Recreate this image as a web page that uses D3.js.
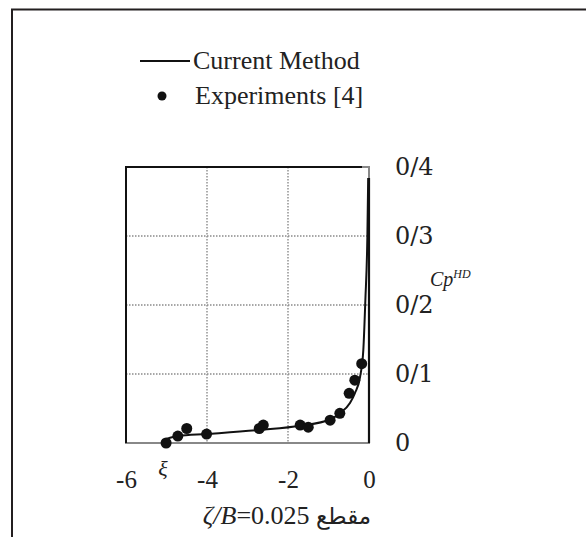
<!DOCTYPE html>
<html>
<head>
<meta charset="utf-8">
<script src="https://cdn.jsdelivr.net/npm/d3@7"></script>
<style>
  body { margin: 0; background: #fff; }
  svg { display: block; }
</style>
</head>
<body>
<svg width="586" height="537"></svg>
<script>
// computed curve (current method)
var curveX = [-5.0, -4.72, -4.01, -2.69, -1.70, -0.96, -0.72, -0.47, -0.35, -0.22, -0.14, -0.09, -0.04, -0.02];
var curveY = [0.006, 0.010, 0.013, 0.019, 0.025, 0.034, 0.043, 0.058, 0.072, 0.096, 0.135, 0.207, 0.30, 0.384];

// experiments [4]
var expX = [-5.01, -4.72, -4.50, -4.01, -2.71, -2.61, -1.70, -1.50, -0.96, -0.72, -0.49, -0.35, -0.18];
var expY = [0.000, 0.010, 0.021, 0.013, 0.021, 0.026, 0.026, 0.023, 0.033, 0.043, 0.072, 0.091, 0.115];

var xTicks = [-6, -4, -2, 0];
var yTicks = [0, 0.1, 0.2, 0.3, 0.4];
var yTickLabels = ["0", "0/1", "0/2", "0/3", "0/4"];

var svg = d3.select("svg");

var x = d3.scaleLinear().domain([-6, 0]).range([126, 369]);
var y = d3.scaleLinear().domain([0, 0.4]).range([443, 167]);

// outer frame (left + top only)
svg.append("path")
    .attr("d", "M12,537 V9.5 H586")
    .attr("fill", "none")
    .attr("stroke", "#231f20")
    .attr("stroke-width", 2);

// grid
var grid = svg.append("g");
grid.selectAll(".gx")
  .data([-4, -2])
  .enter().append("line")
    .attr("x1", function(d) { return x(d); })
    .attr("x2", function(d) { return x(d); })
    .attr("y1", y(0.4))
    .attr("y2", y(0))
    .attr("stroke", "#8a8a8a")
    .attr("stroke-width", 1.4)
    .attr("stroke-dasharray", "1.5,1.5");
grid.selectAll(".gy")
  .data([0.1, 0.2, 0.3])
  .enter().append("line")
    .attr("x1", x(-6))
    .attr("x2", x(0))
    .attr("y1", function(d) { return y(d); })
    .attr("y2", function(d) { return y(d); })
    .attr("stroke", "#8a8a8a")
    .attr("stroke-width", 1.4)
    .attr("stroke-dasharray", "1.5,1.5");

// plot frame
svg.append("rect")
    .attr("x", x(-6)).attr("y", y(0.4))
    .attr("width", x(0) - x(-6)).attr("height", y(0) - y(0.4))
    .attr("fill", "none")
    .attr("stroke", "#888")
    .attr("stroke-width", 2);
svg.append("path")
    .attr("d", "M" + x(-6) + "," + y(0) + " V" + y(0.4) + " H" + (x(0) - 7))
    .attr("fill", "none")
    .attr("stroke", "#111")
    .attr("stroke-width", 2);
svg.append("line")
    .attr("x1", x(0)).attr("x2", x(0))
    .attr("y1", y(0)).attr("y2", y(d3.max(curveY)))
    .attr("stroke", "#111")
    .attr("stroke-width", 2.2);

// axes
var yAxis = d3.axisRight(y)
    .tickValues(yTicks)
    .tickSize(0)
    .tickPadding(26)
    .tickFormat(function(d, i) { return yTickLabels[i]; });
var gy = svg.append("g")
    .attr("transform", "translate(" + x(0) + ",0)")
    .call(yAxis);
gy.select(".domain").remove();
gy.selectAll("text")
    .attr("font-family", "'DejaVu Serif', serif")
    .attr("font-size", 24)
    .attr("fill", "#222");

var xAxis = d3.axisBottom(x)
    .tickValues(xTicks)
    .tickSize(0)
    .tickPadding(27)
    .tickFormat(function(d) { return String(d); });
var gx = svg.append("g")
    .attr("transform", "translate(0," + y(0) + ")")
    .call(xAxis);
gx.select(".domain").remove();
gx.selectAll("text")
    .attr("font-family", "'Liberation Serif', serif")
    .attr("font-size", 25)
    .attr("fill", "#222");

// curve
var line = d3.line()
    .x(function(d) { return x(d[0]); })
    .y(function(d) { return y(d[1]); })
    .curve(d3.curveMonotoneX);
svg.append("path")
    .datum(d3.zip(curveX, curveY))
    .attr("d", line)
    .attr("fill", "none")
    .attr("stroke", "#111")
    .attr("stroke-width", 2);

// experiment dots
svg.selectAll(".dot")
  .data(d3.zip(expX, expY))
  .enter().append("circle")
    .attr("cx", function(d) { return x(d[0]); })
    .attr("cy", function(d) { return y(d[1]); })
    .attr("r", 5.5)
    .attr("fill", "#111");

// labels
svg.append("text")
    .attr("x", 163).attr("y", 476)
    .attr("text-anchor", "middle")
    .attr("font-family", "'Liberation Serif', serif")
    .attr("font-style", "italic")
    .attr("font-size", 22)
    .attr("fill", "#222")
    .text("ξ");

var cp = svg.append("text")
    .attr("x", 430).attr("y", 286)
    .attr("font-family", "'Liberation Serif', serif")
    .attr("font-style", "italic")
    .attr("font-size", 20)
    .attr("fill", "#222");
cp.append("tspan").text("Cp");
cp.append("tspan").attr("dy", -8).attr("font-size", 12).text("HD");

var xl = svg.append("text")
    .attr("x", 287).attr("y", 524)
    .attr("text-anchor", "middle")
    .attr("direction", "ltr")
    .attr("font-family", "'Liberation Serif', 'DejaVu Sans', serif")
    .attr("font-size", 26)
    .attr("fill", "#222");
xl.append("tspan").attr("font-style", "italic").text("ζ/B");
xl.append("tspan").text("=0.025 ");
xl.append("tspan").attr("font-family", "'DejaVu Sans', sans-serif").attr("font-size", 23).text("مقطع");

// legend
var legend = svg.append("g")
    .attr("font-family", "'Liberation Serif', serif")
    .attr("font-size", 26)
    .attr("fill", "#222");
legend.append("line")
    .attr("x1", 140).attr("x2", 190)
    .attr("y1", 61).attr("y2", 61)
    .attr("stroke", "#111")
    .attr("stroke-width", 2);
legend.append("text").attr("x", 193).attr("y", 69).text("Current Method");
legend.append("circle").attr("cx", 162).attr("cy", 96).attr("r", 4.5).attr("fill", "#111");
legend.append("text").attr("x", 195).attr("y", 104).text("Experiments [4]");
</script>
</body>
</html>
